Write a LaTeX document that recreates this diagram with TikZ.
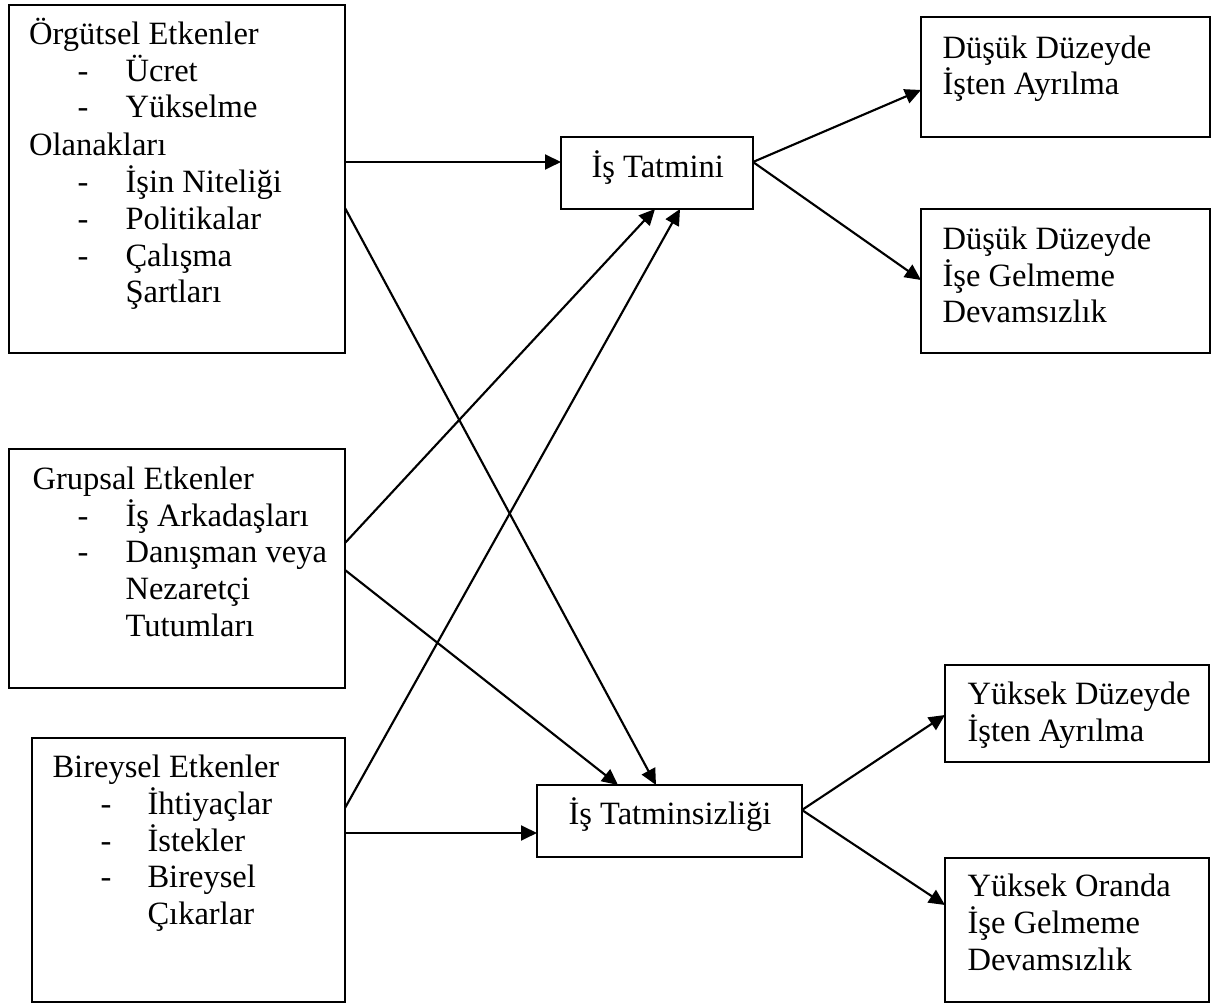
\documentclass[tikz,border=0pt]{standalone}
\usepackage{fontspec}
\setmainfont{Liberation Serif}
\usetikzlibrary{arrows.meta,fit}
\begin{document}
\begin{tikzpicture}[x=0.375pt,y=-0.375pt,
  box/.style={draw,line width=0.8pt,inner sep=0pt,outer sep=0pt},
  txt/.style={anchor=base west,inner sep=0pt,font=\fontsize{12.2}{14}\selectfont},
  arr/.style={line width=0.8pt,-{Triangle[length=6pt,width=5.6pt]}}]
\useasboundingbox (0,0) rectangle (1224,1004);
% boxes
\node[box,fit={(9,5) (345,353)}] (A) {};
\node[box,fit={(9,449) (345,688)}] (B) {};
\node[box,fit={(32,738) (345,1002)}] (C) {};
\node[box,fit={(561,137) (753,209)}] (T1) {};
\node[box,fit={(537,785) (802,857)}] (T2) {};
\node[box,fit={(921,17) (1210,137)}] (R1) {};
\node[box,fit={(921,209) (1210,353)}] (R2) {};
\node[box,fit={(945,665) (1209,762)}] (R3) {};
\node[box,fit={(945,858) (1209,1002)}] (R4) {};
% texts box A
\node[txt] (a0) at (28.5,45) {Örgütsel Etkenler};
\node[txt] (a1d) at (77,82) {-};  \node[txt] (a1) at (125,82) {Ücret};
\node[txt] (a2d) at (77,118) {-}; \node[txt] (a2) at (125,118) {Yükselme};
\node[txt] (a3) at (28.5,156) {Olanakları};
\node[txt] (a4d) at (77,193) {-}; \node[txt] (a4) at (125,193) {İşin Niteliği};
\node[txt] (a5d) at (77,230) {-}; \node[txt] (a5) at (125,230) {Politikalar};
\node[txt] (a6d) at (77,267) {-}; \node[txt] (a6) at (125,267) {Çalışma};
\node[txt] (a7) at (125,303) {Şartları};
% texts box B
\node[txt] (b0) at (32,490) {Grupsal Etkenler};
\node[txt] (b1d) at (77,527) {-}; \node[txt] (b1) at (125,527) {İş Arkadaşları};
\node[txt] (b2d) at (77,563) {-}; \node[txt] (b2) at (125,563) {Danışman veya};
\node[txt] (b3) at (125,600) {Nezaretçi};
\node[txt] (b4) at (125,637) {Tutumları};
% texts box C
\node[txt] (c0) at (52,778) {Bireysel Etkenler};
\node[txt] (c1d) at (100,815) {-}; \node[txt] (c1) at (147,815) {İhtiyaçlar};
\node[txt] (c2d) at (100,852) {-}; \node[txt] (c2) at (147,852) {İstekler};
\node[txt] (c3d) at (100,888) {-}; \node[txt] (c3) at (147,888) {Bireysel};
\node[txt] (c4) at (147,925) {Çıkarlar};
% middle
\node[txt] (t1) at (591,178) {İş Tatmini};
\node[txt] (t2) at (568,825) {İş Tatminsizliği};
% right
\node[txt] (r11) at (942,59) {Düşük Düzeyde};
\node[txt] (r12) at (942,95) {İşten Ayrılma};
\node[txt] (r21) at (942,250) {Düşük Düzeyde};
\node[txt] (r22) at (942,287) {İşe Gelmeme};
\node[txt] (r23) at (942,323) {Devamsızlık};
\node[txt] (r31) at (967,705) {Yüksek Düzeyde};
\node[txt] (r32) at (967,742) {İşten Ayrılma};
\node[txt] (r41) at (967,897) {Yüksek Oranda};
\node[txt] (r42) at (967,934) {İşe Gelmeme};
\node[txt] (r43) at (967,971) {Devamsızlık};
% connectors
\draw[arr] (A.east |- 0,162) -- (T1.west |- 0,162);
\draw[arr] (A.east |- 0,208) -- (T2.north -| 656,0);
\draw[arr] (B.east |- 0,543) -- (T1.south -| 655,0);
\draw[arr] (B.east |- 0,570) -- (T2.north -| 618,0);
\draw[arr] (C.east |- 0,808) -- (T1.south -| 680,0);
\draw[arr] (C.east |- 0,833) -- (T2.west |- 0,833);
\draw[arr] (T1.east |- 0,162) -- (R1.west |- 0,90);
\draw[arr] (T1.east |- 0,162) -- (R2.west |- 0,280);
\draw[arr] (T2.east |- 0,810) -- (R3.west |- 0,715);
\draw[arr] (T2.east |- 0,810) -- (R4.west |- 0,905);
\end{tikzpicture}
\end{document}
